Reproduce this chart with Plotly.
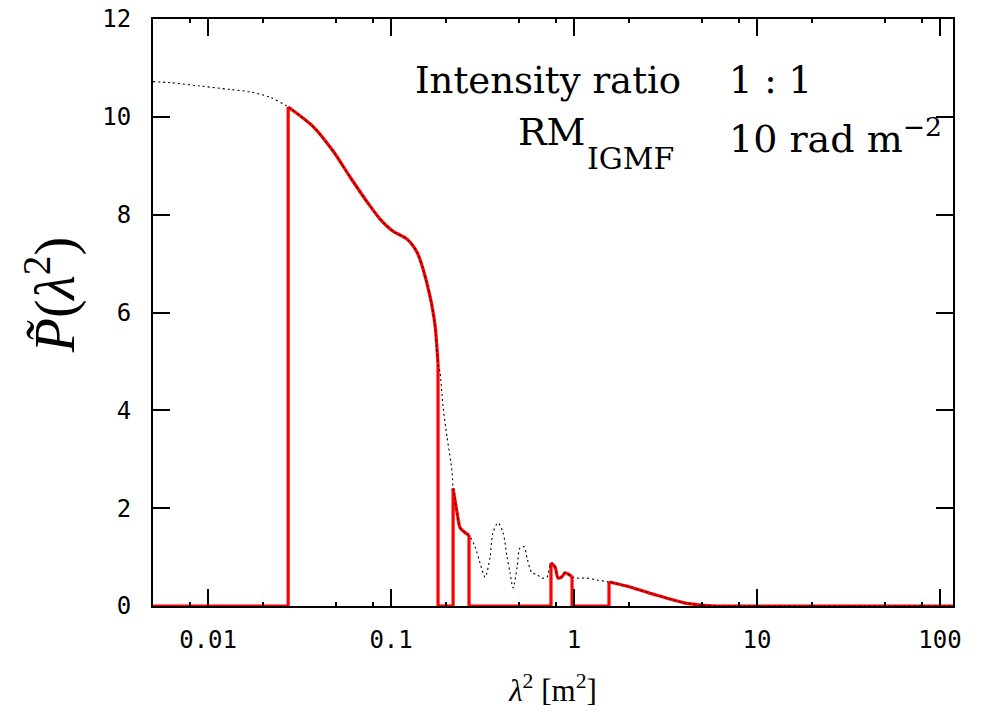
import numpy as np
import plotly.graph_objects as go

# lambda^2 [m^2] sample points of the model curve
lam2 = [0.005, 0.00619, 0.00903, 0.01318, 0.01698, 0.0218, 0.0274, 0.0375, 0.0482,
        0.0597, 0.0740, 0.0871, 0.1026, 0.1223, 0.1387, 0.1496, 0.1633, 0.1738,
        0.1806, 0.1853, 0.1923, 0.2022, 0.2155, 0.2183, 0.2295, 0.2383, 0.2535,
        0.2667, 0.2877, 0.3063, 0.3266, 0.3475, 0.3606, 0.3843, 0.4093, 0.4305,
        0.4470, 0.4645, 0.4887, 0.5070, 0.5333, 0.5536, 0.5891, 0.6281, 0.6683,
        0.7112, 0.7482, 0.7870, 0.8181, 0.8597, 0.8930, 0.9390, 0.9752, 1.038,
        1.178, 1.336, 1.553, 2.022, 2.602, 3.221, 3.942, 4.884, 6.04, 9.16, 17.2,
        60.4, 117.8]
# polarised intensity P~(lambda^2)
P_model = [10.72, 10.70, 10.63, 10.56, 10.51, 10.40, 10.20, 9.80, 9.30,
           8.77, 8.26, 7.91, 7.66, 7.50, 7.23, 6.89, 6.33, 5.75,
           4.95, 4.77, 4.08, 3.46, 2.75, 2.40, 1.91, 1.60, 1.50,
           1.45, 1.21, 0.88, 0.59, 1.00, 1.50, 1.70, 1.50, 1.00,
           0.68, 0.37, 0.80, 1.19, 1.21, 0.98, 0.68, 0.64, 0.57,
           0.59, 0.88, 0.80, 0.57, 0.60, 0.68, 0.64, 0.60, 0.57,
           0.57, 0.53, 0.49, 0.39, 0.26, 0.16, 0.07, 0.02, 0.0, 0.0, 0.0,
           0.0, 0.0]
# observed bands (windows in lambda^2)
band_lo = [0.0274, 0.2183, 0.7482, 1.553]
band_hi = [0.1806, 0.2667, 0.9752, 117.8]

x_ticks = [0.01, 0.1, 1, 10, 100]
x_ticklabels = ["0.01", "0.1", "1", "10", "100"]
x_minor = [m * 10.0 ** e for e in range(-3, 3) for m in (2, 5, 8)]
y_ticks = [0, 2, 4, 6, 8, 10, 12]

xa = np.array(lam2)
pa = np.array(P_model)

# windowed curve pieces (smooth) and the edges / zero baseline (straight)
cx, cy = [], []
ex, ey = [], []
for lo, hi in zip(band_lo, band_hi):
    sel = (xa >= lo) & (xa <= hi)
    xs = list(xa[sel]); ps = list(pa[sel])
    cx += xs + [None]; cy += ps + [None]
    ex += [xs[0], xs[0], None, xs[-1], xs[-1], None]
    ey += [0.0, ps[0], None, ps[-1], 0.0, None]
bx, by = [lam2[0], band_lo[0]], [0.0, 0.0]
for hi, lo in zip(band_hi[:-1], band_lo[1:]):
    bx += [None, hi, lo]; by += [None, 0.0, 0.0]
bx += [None, band_hi[-1], lam2[-1]]; by += [None, 0.0, 0.0]

red = "#ff0000"
fig = go.Figure()
fig.add_trace(go.Scatter(x=bx, y=by, mode="lines", cliponaxis=False,
                         line=dict(color=red, width=3.2), showlegend=False))
fig.add_trace(go.Scatter(x=ex, y=ey, mode="lines", cliponaxis=False,
                         line=dict(color=red, width=3.2), showlegend=False))
fig.add_trace(go.Scatter(x=cx, y=cy, mode="lines", cliponaxis=False,
                         line=dict(color=red, width=3.2, shape="spline", smoothing=0.8),
                         showlegend=False))
fig.add_trace(go.Scatter(x=lam2, y=P_model, mode="lines",
                         line=dict(color="black", width=1.1, dash="2px,3px",
                                   shape="spline", smoothing=0.8),
                         showlegend=False))

tickfont = dict(family="DejaVu Sans Mono", size=24, color="black")
fig.update_layout(
    width=982, height=718,
    margin=dict(l=153, r=29, t=19, b=112),
    paper_bgcolor="white", plot_bgcolor="white",
    xaxis=dict(type="log", range=[np.log10(0.005), np.log10(117.8)], automargin=False,
               tickmode="array", tickvals=x_ticks, ticktext=x_ticklabels,
               ticks="inside", ticklen=17, tickwidth=1.6, tickcolor="black",
               ticklabelstandoff=11, ticklabeloverflow="allow",
               showline=True, linecolor="black", linewidth=2, mirror="ticks",
               showgrid=False, zeroline=False, tickfont=tickfont,
               minor=dict(tickmode="array", tickvals=x_minor, ticks="inside",
                          ticklen=4, tickwidth=1.5, tickcolor="black", showgrid=False),
               title=dict(text="<i>λ</i><sup>2</sup> [m<sup>2</sup>]",
                          font=dict(family="Liberation Serif", size=31, color="black"),
                          standoff=27)),
    yaxis=dict(range=[0, 12], tickmode="array", tickvals=y_ticks, automargin=False,
               ticks="inside", ticklen=17, tickwidth=1.6, tickcolor="black",
               ticklabelstandoff=15, ticklabeloverflow="allow",
               showline=True, linecolor="black", linewidth=2, mirror="ticks",
               showgrid=False, zeroline=False, tickfont=tickfont),
)

# y-axis title placed as a rotated text
fig.add_annotation(xref="paper", yref="paper", x=-0.127, y=0.530, xanchor="center",
                   yanchor="middle", textangle=-90, showarrow=False,
                   text="<i>P̃</i>(<i>λ</i><sup>2</sup>)",
                   font=dict(family="Liberation Serif", size=56, color="black"))

afont = dict(family="DejaVu Serif", size=37, color="black")
afont2 = dict(family="DejaVu Serif", size=38, color="black")
fig.add_annotation(xref="paper", yref="paper", x=0.6625, y=0.896, xanchor="right",
                   yanchor="middle", text="Intensity ratio", showarrow=False, font=afont)
fig.add_annotation(xref="paper", yref="paper", x=0.7175, y=0.896, xanchor="left",
                   yanchor="middle", text="1 : 1", showarrow=False, font=afont)
fig.add_annotation(xref="paper", yref="paper", x=0.5437, y=0.808, xanchor="right",
                   yanchor="middle", text="RM", showarrow=False, font=afont2)
fig.add_annotation(xref="paper", yref="paper", x=0.654, y=0.7625, xanchor="right",
                   yanchor="middle", text="IGMF", showarrow=False,
                   font=dict(family="DejaVu Serif", size=30, color="black"))
fig.add_annotation(xref="paper", yref="paper", x=0.7175, y=0.800, xanchor="left",
                   yanchor="middle", text="10 rad m<sup>−2</sup>", showarrow=False, font=afont2)

fig.write_html("out.html", config={"displayModeBar": False},
               post_script="document.body.style.margin='0';document.body.style.padding='0';")
